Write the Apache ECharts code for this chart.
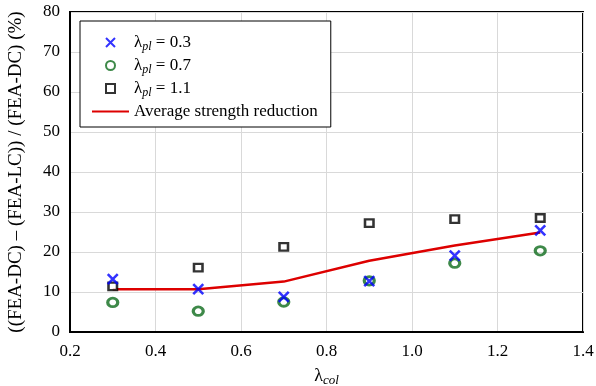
<!DOCTYPE html>
<html>
<head>
<meta charset="utf-8">
<script src="https://cdn.jsdelivr.net/npm/echarts@6/dist/echarts.min.js"></script>
<style>html,body{margin:0;padding:0;background:#fff;}#c{width:596px;height:386px;}</style>
</head>
<body>
<div id="c"></div>
<script>
const lambdaCol = [0.3, 0.5, 0.7, 0.9, 1.1, 1.3];
const pl03 = [13.2, 10.7, 8.8, 12.7, 19.1, 25.4];
const pl07 = [7.4, 5.2, 7.5, 12.8, 17.2, 20.3];
const pl11 = [11.4, 16.1, 21.3, 27.2, 28.2, 28.5];
const avgReduction = [10.7, 10.7, 12.6, 17.8, 21.6, 24.9];
const seriesKeys = ['0.3', '0.7', '1.1'];
const avgName = 'Average strength reduction';

const FONT = 'Liberation Serif';
const CROSS = 'path://M0,0L10,10M10,0L0,10';
const SQUARE = 'path://M0,0L10,0L10,10L0,10Z';
const pairs = a => lambdaCol.map((x, i) => [x, a[i]]);
const chart = echarts.init(document.getElementById('c'));
chart.setOption({
  animation: false,
  backgroundColor: '#fff',
  textStyle: { fontFamily: FONT },
  grid: { left: 70, right: 13, top: 12, bottom: 54, show: true, borderColor: '#000', borderWidth: 2,
          containLabel: false, outerBoundsMode: 'none' },
  legend: {
    orient: 'vertical', left: 80, top: 21,
    padding: [13, 13, 7, 11],
    backgroundColor: '#fff', borderColor: '#000', borderWidth: 1, borderRadius: 0,
    itemWidth: 37, itemHeight: 9, itemGap: 4.5,
    data: [
      { name: 'pl0.3', icon: CROSS },
      { name: 'pl0.7', icon: 'circle' },
      { name: 'pl1.1', icon: SQUARE },
      { name: avgName, itemStyle: { opacity: 0 } }
    ],
    formatter: n => n === avgName ? '{t|' + n + '}' : '{t|λ}{s|pl}{t| = ' + n.slice(2) + '}',
    textStyle: {
      fontFamily: FONT, fontSize: 17, color: '#000',
      rich: {
        t: { fontFamily: FONT, fontSize: 17, color: '#000' },
        s: { fontFamily: FONT, fontSize: 12, fontStyle: 'italic', color: '#000', padding: [8, 0, 0, 0] }
      }
    }
  },
  xAxis: {
    type: 'value', min: 0.2, max: 1.4, interval: 0.2,
    axisLine: { show: true, lineStyle: { color: '#000', width: 2 } },
    axisTick: { show: false },
    splitLine: { show: true, lineStyle: { color: '#d9d9d9', width: 1 } },
    axisLabel: { fontFamily: FONT, fontSize: 17, color: '#000', margin: 11, formatter: v => v.toFixed(1) },
    name: '{t|λ}{s|col}', nameLocation: 'middle', nameGap: 33,
    nameTextStyle: {
      rich: {
        t: { fontFamily: FONT, fontSize: 18, color: '#000' },
        s: { fontFamily: FONT, fontSize: 13, fontStyle: 'italic', color: '#000', padding: [9, 0, 0, 0] }
      }
    }
  },
  yAxis: {
    type: 'value', min: 0, max: 80, interval: 10,
    axisLine: { show: true, lineStyle: { color: '#000', width: 2 } },
    axisTick: { show: false },
    splitLine: { show: true, lineStyle: { color: '#d9d9d9', width: 1 } },
    axisLabel: { fontFamily: FONT, fontSize: 17, color: '#000', margin: 10 },
    name: '((FEA-DC) \u2013 (FEA-LC)) / (FEA-DC) (%)', nameLocation: 'middle', nameGap: 44,
    nameTextStyle: { fontFamily: FONT, fontSize: 19, color: '#000' }
  },
  series: [
    { name: 'pl0.3', type: 'scatter', data: pairs(pl03), z: 4,
      symbol: CROSS, symbolSize: 10, symbolKeepAspect: true,
      itemStyle: { color: 'rgba(0,0,0,0)', borderColor: '#0000ff', borderWidth: 2.6 } },
    { name: 'pl0.7', type: 'scatter', data: pairs(pl07), z: 3,
      symbol: 'circle', symbolSize: [10, 8.5],
      itemStyle: { color: 'rgba(0,0,0,0)', borderColor: '#0e6b1c', borderWidth: 3 } },
    { name: 'pl1.1', type: 'scatter', data: pairs(pl11), z: 3,
      symbol: SQUARE, symbolSize: [8.5, 7.5], symbolKeepAspect: false,
      itemStyle: { color: '#fff', borderColor: '#000', borderWidth: 2.4 } },
    { name: avgName, type: 'line', data: pairs(avgReduction), z: 2,
      symbol: 'none', lineStyle: { color: '#dd0000', width: 2.5 }, itemStyle: { color: '#dd0000' } }
  ]
});
</script>
</body>
</html>
